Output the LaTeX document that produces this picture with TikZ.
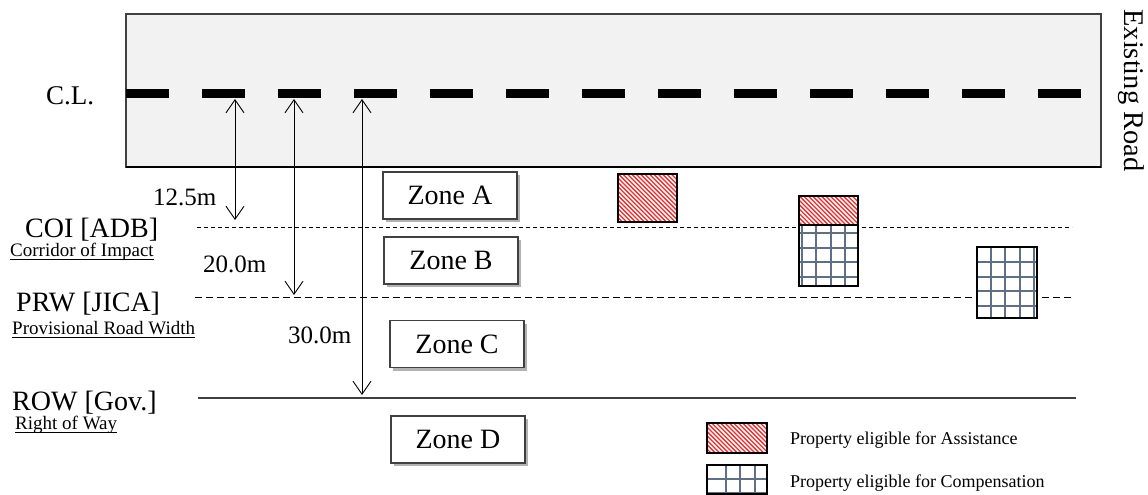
\documentclass[tikz,border=0pt]{standalone}
\usepackage{fontspec}
\setmainfont{Liberation Serif}
\usetikzlibrary{arrows.meta,shadows}

\definecolor{roadfill}{HTML}{F2F2F2}
\definecolor{edgegray}{HTML}{404040}
\definecolor{gridblue}{HTML}{5F6F88}
\definecolor{hatchred}{HTML}{F52A2A}

\tikzset{
  lab/.style={font=\fontsize{28}{30}\selectfont, inner sep=0pt, anchor=base west},
  sublab/.style={font=\fontsize{19}{21}\selectfont, inner sep=0pt, anchor=base west},
  dimlab/.style={font=\fontsize{25}{27}\selectfont, inner sep=0pt, anchor=base west},
  leglab/.style={font=\fontsize{18}{20}\selectfont, inner sep=0pt, anchor=base west},
  zone/.style={draw=edgegray, line width=1.1pt, fill=white, minimum width=134pt,
    minimum height=47pt, inner sep=0pt, font=\fontsize{28}{30}\selectfont,
    drop shadow={shadow xshift=3pt, shadow yshift=-3pt, opacity=0.3, fill=black}},
  dimarrow/.style={line width=0.9pt,
    {Straight Barb[length=13pt,width=18pt]}-{Straight Barb[length=13pt,width=18pt]}},
  coiline/.style={line width=0.9pt, dash pattern=on 4pt off 3pt},
  prwline/.style={line width=1pt, dash pattern=on 7pt off 4pt},
  rowline/.style={line width=1.2pt, draw=edgegray},
  gridline/.style={line width=2pt, draw=gridblue},
  hatchline/.style={line width=1.3pt, draw=hatchred},
  boxedge/.style={line width=1.4pt, draw=black},
}

% property with a square grid (eligible for compensation)
\newcommand{\gridcells}[6]{%
  \fill[white] (#1,#2) rectangle (#3,#4);
  \begin{scope}
    \clip (#1,#2) rectangle (#3,#4);
    \foreach \k in {0,...,5} {
      \draw[gridline] ({#5+14.5*\k},#2) -- ({#5+14.5*\k},#4);
      \draw[gridline] (#1,{#6+14.5*\k}) -- (#3,{#6+14.5*\k});
    }
  \end{scope}
  \draw[boxedge] (#1,#2) rectangle (#3,#4);
}

% property with red hatching (eligible for assistance)
\newcommand{\hatchcells}[4]{%
  \fill[white] (#1,#2) rectangle (#3,#4);
  \begin{scope}
    \clip (#1,#2) rectangle (#3,#4);
    \foreach \k in {0,...,40} {
      \draw[hatchline] ({#1-72+4.4*\k},{#2-2}) -- ++(80,80);
    }
  \end{scope}
  \draw[boxedge] (#1,#2) rectangle (#3,#4);
}

\begin{document}
\begin{tikzpicture}[x=1pt, y=-1pt]
  \useasboundingbox[fill=white] (0,0) rectangle (1148,495);

  % existing road with centre line
  \fill[roadfill] (126,14) rectangle (1101,167);
  \draw[edgegray, line width=1.2pt] (126,14) rectangle (1101,167);
  \draw[black, line width=2pt] (126,167) -- (1101,167);
  \foreach \k in {0,...,12} {
    \fill[black] ({126+76*\k},88.5) rectangle ({169+76*\k},97.5);
  }
  \node[lab, font=\fontsize{28.5}{30}\selectfont, rotate=-90, anchor=base] (road) at (1124,90.5) {Existing Road};
  \node[lab, font=\fontsize{27}{29}\selectfont] (cl) at (46,104) {C.L.};

  % boundary lines
  \coordinate (coiA) at (197,227);
  \coordinate (coiB) at (1072,227);
  \coordinate (prwA) at (195,297);
  \coordinate (prwB) at (1073,297);
  \coordinate (rowA) at (198,398);
  \coordinate (rowB) at (1076,398);
  \draw[coiline] (coiA) -- (coiB);
  \draw[prwline] (prwA) -- (prwB);
  \draw[rowline] (rowA) -- (rowB);

  % boundary labels
  \node[lab] (coi) at (25,237) {COI [ADB]};
  \node[sublab] (coisub) at (10,256) {Corridor of Impact};
  \draw[line width=0.8pt] ([yshift=-3pt]coisub.base west) -- ([yshift=-3pt]coisub.base east);
  \node[lab] (prw) at (16,311) {PRW [JICA]};
  \node[sublab] (prwsub) at (12,334) {Provisional Road Width};
  \draw[line width=0.8pt] ([yshift=-3pt]prwsub.base west) -- ([yshift=-3pt]prwsub.base east);
  \node[lab] (row) at (12,410) {ROW [Gov.]};
  \node[sublab] (rowsub) at (15,429) {Right of Way};
  \draw[line width=0.8pt] ([yshift=-3pt]rowsub.base west) -- ([yshift=-3pt]rowsub.base east);

  % distances from the centre line
  \coordinate (cl1) at (235,99);
  \coordinate (cl2) at (294,99);
  \coordinate (cl3) at (362,99);
  \coordinate (to1) at (235,220);
  \coordinate (to2) at (294,295);
  \coordinate (to3) at (362,395);
  \draw[dimarrow] (cl1) -- (to1);
  \draw[dimarrow] (cl2) -- (to2);
  \draw[dimarrow] (cl3) -- (to3);
  \node[dimlab] (d1) at (153,205) {12.5m};
  \node[dimlab] (d2) at (203,272) {20.0m};
  \node[dimlab] (d3) at (288,343) {30.0m};

  % zones
  \node[zone] (zA) at (450,195.5) {Zone A};
  \node[zone] (zB) at (451,260.5) {Zone B};
  \node[zone] (zC) at (457,344) {Zone C};
  \node[zone] (zD) at (458,439.5) {Zone D};

  % affected properties
  \hatchcells{618}{174}{677}{222}
  \gridcells{799}{225}{858}{286}{801.5}{233}
  \hatchcells{799}{196}{858}{225}
  \gridcells{977}{247}{1037}{318}{990.5}{262}

  % legend
  \hatchcells{707}{423}{767}{453}
  \gridcells{707}{465}{767}{494}{725.5}{478.5}
  \node[leglab] (legA) at (790,444) {Property eligible for Assistance};
  \node[leglab] (legC) at (790,487) {Property eligible for Compensation};
\end{tikzpicture}
\end{document}
